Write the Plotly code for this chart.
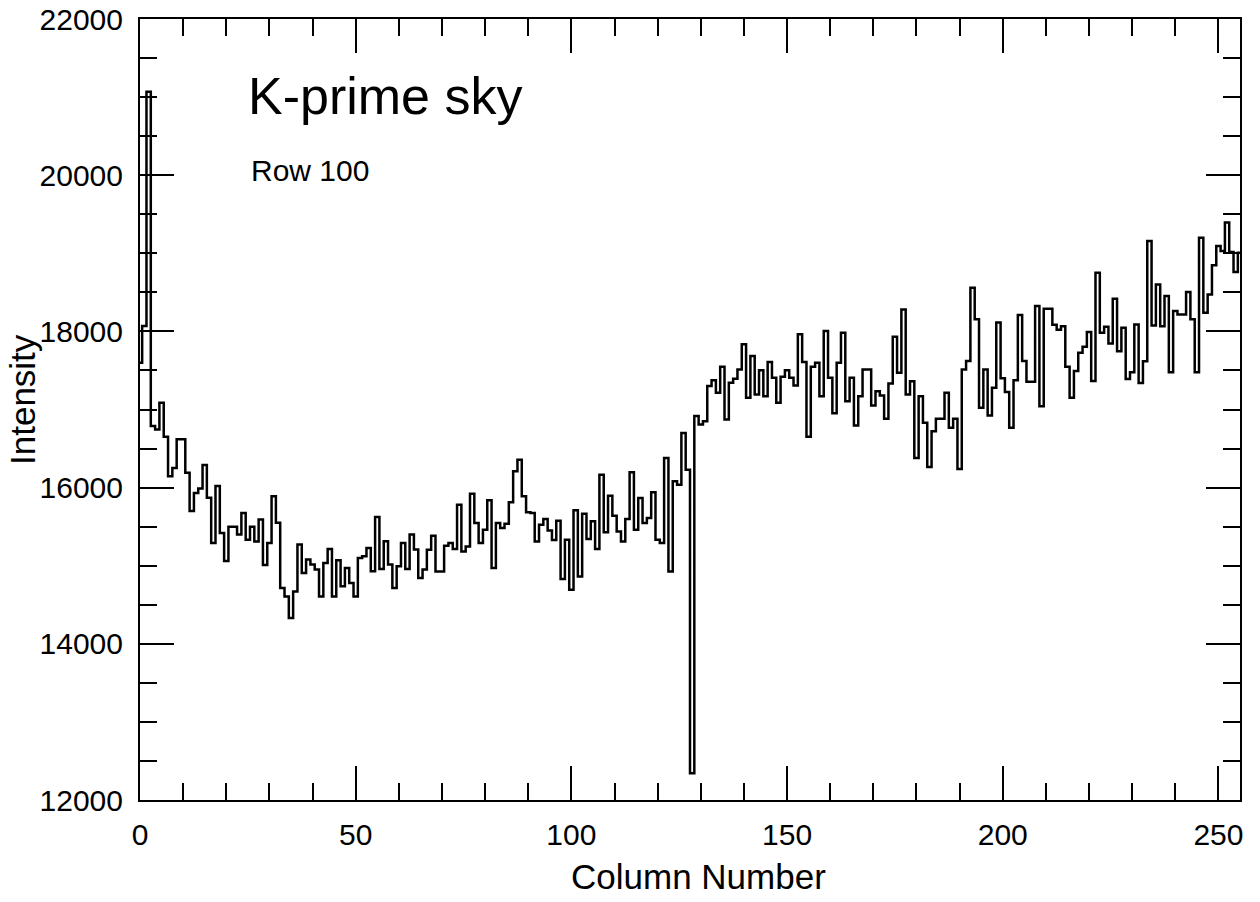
import plotly.graph_objects as go

columns = list(range(256))

intensity = [
    17600, 18070, 21070, 16790, 16745, 17085, 16650, 16145, 16252, 16620,
    16620, 16190, 15700, 15930, 15990, 16290, 15870, 15290, 16020, 15420,
    15060, 15500, 15500, 15400, 15675, 15333, 15500, 15310, 15590, 15010,
    15290, 15890, 15550, 14714, 14607, 14330, 14670, 15270, 14907, 15078,
    15014, 14950, 14607, 15035, 15215, 14607, 15070, 14736, 14970, 14778,
    14607, 15100, 15120, 15227, 14928, 15624, 14958, 15312, 15014, 14714,
    14992, 15291, 14958, 15398, 15206, 14843, 14950, 15205, 15384, 14926,
    14926, 15255, 15290, 15213, 15781, 15183, 15247, 15922, 15546, 15290,
    15461, 15837, 14970, 15546, 15482, 15538, 15811, 16209, 16358, 15888,
    15683, 15674, 15311, 15525, 15597, 15452, 15330, 15575, 14830, 15333,
    14691, 15709, 14862, 15666, 15341, 15568, 15213, 16166, 15427, 15897,
    15640, 15439, 15311, 15598, 16196, 15461, 15867, 15546, 15610, 15940,
    15333, 15290, 16380, 14927, 16081, 16038, 16700, 16230, 12341, 16918,
    16808, 16851, 17300, 17376, 17214, 17547, 16872, 17342, 17393, 17513,
    17834, 17150, 17684, 17193, 17504, 17171, 17607, 17406, 17086, 17419,
    17504, 17406, 17308, 17962, 17607, 16650, 17547, 17598, 17171, 18004,
    17406, 16953, 17599, 17984, 17107, 17406, 16795, 17171, 17513, 17513,
    17051, 17235, 17180, 16880, 17333, 17932, 17470, 18282, 17192, 17363,
    16380, 17171, 16829, 16265, 16722, 16880, 16880, 17214, 16765, 16880,
    16239, 17513, 17620, 18559, 18157, 17022, 17513, 16923, 17278, 18115,
    17400, 17223, 16765, 17376, 18210, 17620, 17355, 17355, 18325, 17043,
    18290, 18290, 18086, 18022, 18065, 17548, 17150, 17492, 17727, 17804,
    17992, 17364, 18752, 17982, 18059, 17845, 18418, 17746, 18046, 17392,
    17477, 18089, 17340, 17618, 19158, 18076, 18601, 18067, 18452, 17477,
    18260, 18217, 18217, 18504, 18154, 17477, 19200, 18239, 18474, 18846,
    19094, 19030, 19393, 19017, 18760, 19008,
]

x_ticks = [0, 50, 100, 150, 200, 250]
y_ticks = [12000, 14000, 16000, 18000, 20000, 22000]

title_text = "K-prime sky"
subtitle_text = "Row 100"
x_title = "Column Number"
y_title = "Intensity"

FONT = "Liberation Sans, Arial, Helvetica, sans-serif"

fig = go.Figure()
fig.add_trace(go.Scatter(
    x=columns, y=intensity, mode="lines",
    line=dict(shape="hvh", color="black", width=2.5),
    showlegend=False, hoverinfo="skip",
))

axis_common = dict(
    showgrid=False, zeroline=False, automargin=False,
    showline=True, linecolor="black", linewidth=2,
    mirror="allticks", ticks="inside", tickcolor="black", tickwidth=2,
    ticklen=34,
    tickfont=dict(family=FONT, size=30, color="black"),
)

fig.update_xaxes(
    range=[0, 255], tickmode="array", tickvals=x_ticks,
    ticktext=[str(v) for v in x_ticks],
    ticklabelstandoff=7,
    minor=dict(ticks="inside", ticklen=17, dtick=10, tick0=0,
               tickcolor="black", tickwidth=2, showgrid=False),
    **axis_common,
)
fig.update_yaxes(
    range=[12000, 22000], tickmode="array", tickvals=y_ticks,
    ticktext=[str(v) for v in y_ticks],
    ticklabelstandoff=9,
    minor=dict(ticks="inside", ticklen=17, dtick=500, tick0=12000,
               tickcolor="black", tickwidth=2, showgrid=False),
    **axis_common,
)

W, H = 1260, 902
L, R, T, B = 140, 20, 19, 102
pw, ph = W - L - R, H - T - B

def px_x(p):
    return (p - L) / pw

def px_y(p):
    return (H - B - p) / ph

annotations = [
    dict(text=title_text, x=px_x(246), y=px_y(96), xref="paper", yref="paper",
         xanchor="left", yanchor="middle", showarrow=False,
         font=dict(family=FONT, size=52, color="black")),
    dict(text=subtitle_text, x=px_x(249), y=px_y(170), xref="paper", yref="paper",
         xanchor="left", yanchor="middle", showarrow=False,
         font=dict(family=FONT, size=30, color="black")),
    dict(text=x_title, x=px_x(698), y=px_y(876), xref="paper", yref="paper",
         xanchor="center", yanchor="middle", showarrow=False,
         font=dict(family=FONT, size=35, color="black")),
    dict(text=y_title, x=px_x(22), y=px_y(400), xref="paper", yref="paper",
         xanchor="center", yanchor="middle", showarrow=False, textangle=-90,
         font=dict(family=FONT, size=35, color="black")),
]

fig.update_layout(
    width=W, height=H,
    margin=dict(l=L, r=R, t=T, b=B),
    paper_bgcolor="white", plot_bgcolor="white",
    annotations=annotations,
)

fig.write_html("out.html")
